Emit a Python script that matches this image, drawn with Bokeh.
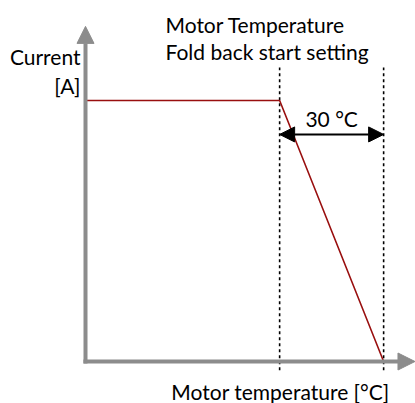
from bokeh.plotting import figure
from bokeh.models import Range1d, Arrow, NormalHead, Label
from bokeh.embed import file_html
from bokeh.resources import INLINE

# Data (conceptual units: temperature in °C relative to axis origin, current normalized)
temperature = [0, 56, 86]      # axis origin, fold-back start, fold-back end (+30 °C)
current = [1.0, 1.0, 0.0]      # rated current, rated current, zero
span_label = "30 °C"
x_label = "Motor temperature [°C]"
y_label_lines = ["Current", "[A]"]
title_lines = ["Motor Temperature", "Fold back start setting"]

W, H = 415, 403
px_per_deg = 104 / 30
px_per_unit = 261.0
x0_px = 85      # pixel position of temperature 0
y0_px = 42      # pixel position (from bottom) of current 0

p = figure(width=W, height=H, output_backend="svg", toolbar_location=None,
           x_range=Range1d(-x0_px / px_per_deg, (W - x0_px) / px_per_deg),
           y_range=Range1d(-y0_px / px_per_unit, (H - y0_px) / px_per_unit),
           min_border=0)
p.axis.visible = False
p.grid.visible = False
p.outline_line_color = None
p.background_fill_color = "white"

GRAY = "#8c8c8c"
FONT = "Lato"
FS = "21px"

# axes as arrows
p.add_layout(Arrow(end=NormalHead(size=17, fill_color=GRAY, line_color=GRAY),
                   x_start=temperature[0], y_start=-0.008, x_end=temperature[0], y_end=1.284,
                   line_color=GRAY, line_width=4))
p.add_layout(Arrow(end=NormalHead(size=17, fill_color=GRAY, line_color=GRAY),
                   x_start=-0.6, y_start=current[2], x_end=p.x_range.end - 0.15, y_end=current[2],
                   line_color=GRAY, line_width=4))

# dashed verticals
for t in temperature[1:]:
    p.line([t, t], [-0.034, 1.126], line_color="black", line_width=1.6, line_dash="3 3")

# current curve
p.line(temperature, current, line_color="#990f0f", line_width=1.6)

# double arrow for span
p.add_layout(Arrow(start=NormalHead(size=15, fill_color="black", line_color="black"),
                   end=NormalHead(size=15, fill_color="black", line_color="black"),
                   x_start=temperature[1], x_end=temperature[2], y_start=0.87, y_end=0.87,
                   line_color="black", line_width=2))

p.add_layout(Label(x=(temperature[1] + temperature[2]) / 2, y=0.932, text=span_label,
                   text_font=FONT, text_font_size=FS, text_align="center",
                   text_baseline="middle", text_color="black"))

# titles
p.add_layout(Label(x=165, y=H - 24, x_units="screen", y_units="screen", text=title_lines[0],
                   text_font=FONT, text_font_size=FS, text_align="left",
                   text_baseline="middle", text_color="black"))
p.add_layout(Label(x=165, y=H - 51, x_units="screen", y_units="screen", text=title_lines[1],
                   text_font=FONT, text_font_size=FS, text_align="left",
                   text_baseline="middle", text_color="black"))

# y label
p.add_layout(Label(x=80, y=H - 56, x_units="screen", y_units="screen", text=y_label_lines[0],
                   text_font=FONT, text_font_size=FS, text_align="right",
                   text_baseline="middle", text_color="black"))
p.add_layout(Label(x=80, y=H - 85, x_units="screen", y_units="screen", text=y_label_lines[1],
                   text_font=FONT, text_font_size=FS, text_align="right",
                   text_baseline="middle", text_color="black"))

# x label
p.add_layout(Label(x=280, y=H - 391, x_units="screen", y_units="screen", text=x_label,
                   text_font=FONT, text_font_size=FS, text_align="center",
                   text_baseline="middle", text_color="black"))

open("out.html", "w").write(file_html(p, INLINE))
